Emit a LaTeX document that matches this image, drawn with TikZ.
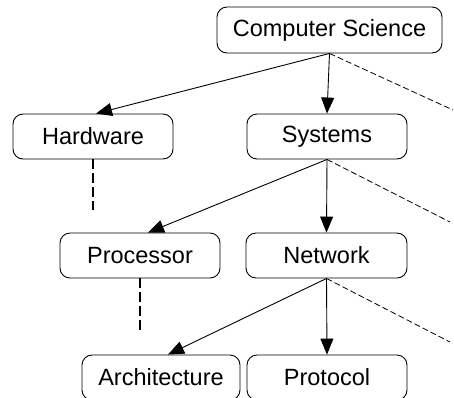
\documentclass[tikz,border=0pt]{standalone}
\usepackage{fontspec}
\setmainfont{Liberation Sans}
\usetikzlibrary{arrows.meta,positioning}

\begin{document}
\begin{tikzpicture}[
    x=1pt, y=-1pt,
    topic/.style={rectangle, rounded corners=10pt, draw, line width=0.9pt, minimum width=160pt, minimum height=45pt, inner sep=0pt, font=\fontsize{23.5}{26}\selectfont},
    arrow/.style={-{Triangle[length=16pt,width=13pt]}, line width=0.9pt},
    link/.style={dashed, dash pattern=on 10pt off 4pt, line width=1.7pt},
    more/.style={dash pattern=on 6pt off 3pt, line width=0.8pt}
]
\useasboundingbox (0,0) rectangle (454,397);

% Topics
\node[topic, minimum width=225pt, minimum height=46pt] (cs) at (329.5,30) {Computer Science};

\node[topic] (hardware) at (93,136.5) {Hardware};

\node[topic] (systems) at (327,136.5) {Systems};

\node[topic] (processor) at (140,255.5) {Processor};

\node[topic, minimum width=161pt] (network) at (326.5,255.5) {Network};

\node[topic, minimum width=158pt] (arch) at (161,377.5) {Architecture};

\node[topic] (protocol) at (327,377.5) {Protocol};

% Loose ends of the dashed lines
\coordinate (csmore) at (453,110);
\coordinate (sysmore) at (450,222);
\coordinate (netmore) at (450,342);
\coordinate (hwlink) at (93,210);
\coordinate (proclink) at (140,330);

% Arrows
\draw[arrow] (cs.south) -- ([xshift=3pt]hardware.north);
\draw[arrow] (cs.south) -- (systems.north);
\draw[more] (cs.south) -- (csmore);
\draw[arrow] (systems.south) -- ([xshift=8pt]processor.north);
\draw[arrow] (systems.south) -- (network.north);
\draw[more] (systems.south) -- (sysmore);
\draw[arrow] (network.south) -- ([xshift=7pt]arch.north);
\draw[arrow] (network.south) -- (protocol.north);
\draw[more] (network.south) -- (netmore);

% Links
\draw[link] (hardware.south) -- (hwlink);
\draw[link] (processor.south) -- (proclink);

\end{tikzpicture}
\end{document}
